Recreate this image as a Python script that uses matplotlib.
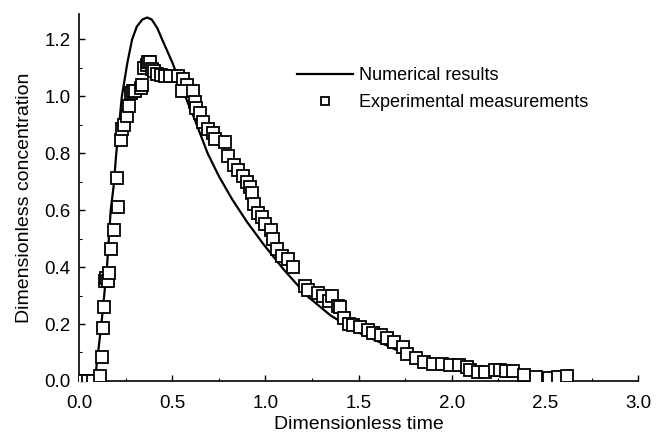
import matplotlib
matplotlib.use("Agg")
import matplotlib.pyplot as plt
from matplotlib.ticker import MultipleLocator, FormatStrFormatter

plt.rcParams['font.family'] = ['Liberation Sans', 'DejaVu Sans']

# Numerical results
num_t = [0.0, 0.075, 0.09, 0.12, 0.15, 0.17, 0.185, 0.20, 0.23, 0.26, 0.285, 0.31, 0.34,
         0.366, 0.39, 0.42, 0.446, 0.50, 0.57, 0.62, 0.69, 0.75, 0.82, 0.90, 0.99, 1.10,
         1.23, 1.35, 1.50, 1.70, 1.85, 2.00, 2.20, 2.50, 2.62]
num_c = [0.0, 0.0, 0.03, 0.20, 0.40, 0.60, 0.68, 0.80, 1.00, 1.12, 1.20, 1.245, 1.27,
         1.277, 1.27, 1.24, 1.20, 1.12, 1.00, 0.92, 0.80, 0.72, 0.64, 0.56, 0.48, 0.39,
         0.295, 0.23, 0.17, 0.11, 0.08, 0.05, 0.03, 0.01, 0.005]

# Experimental measurements
exp_t = [0.0, 0.025, 0.05, 0.075, 0.113, 0.124, 0.13, 0.135, 0.14, 0.145, 0.156, 0.16,
         0.17, 0.19, 0.21, 0.204, 0.226, 0.23, 0.24, 0.256, 0.27, 0.28, 0.29, 0.30,
         0.33, 0.34, 0.35, 0.365, 0.37, 0.38, 0.39, 0.40, 0.42, 0.44, 0.46, 0.49,
         0.53, 0.56, 0.58, 0.55, 0.61, 0.62, 0.63, 0.65, 0.665, 0.69, 0.72, 0.73,
         0.785, 0.80, 0.83, 0.855, 0.88, 0.90, 0.92, 0.93, 0.94, 0.96, 0.98, 1.0,
         1.03, 1.04, 1.06, 1.09, 1.12, 1.15, 1.215, 1.23, 1.28, 1.31, 1.34, 1.36,
         1.39, 1.40, 1.42, 1.45, 1.47, 1.51, 1.55, 1.58, 1.62, 1.65, 1.69, 1.74,
         1.76, 1.81, 1.85, 1.90, 1.95, 1.99, 2.04, 2.08, 2.10, 2.14, 2.18, 2.23,
         2.26, 2.29, 2.33, 2.39, 2.45, 2.52, 2.57, 2.62]
exp_c = [0.0, 0.0, 0.0, 0.0, 0.017, 0.084, 0.185, 0.26, 0.35, 0.36, 0.35, 0.38,
         0.465, 0.53, 0.61, 0.714, 0.847, 0.885, 0.90, 0.93, 0.966, 1.01, 1.02, 1.02,
         1.03, 1.04, 1.10, 1.11, 1.12, 1.12, 1.095, 1.09, 1.08, 1.075, 1.07, 1.07,
         1.07, 1.06, 1.04, 1.02, 1.02, 0.98, 0.96, 0.94, 0.91, 0.885, 0.87, 0.85,
         0.84, 0.79, 0.76, 0.74, 0.72, 0.70, 0.68, 0.66, 0.62, 0.59, 0.575, 0.55,
         0.53, 0.50, 0.465, 0.44, 0.43, 0.40, 0.335, 0.32, 0.31, 0.30, 0.28, 0.30,
         0.265, 0.26, 0.22, 0.20, 0.195, 0.19, 0.18, 0.17, 0.16, 0.15, 0.137, 0.12,
         0.095, 0.08, 0.066, 0.06, 0.06, 0.056, 0.056, 0.05, 0.04, 0.033, 0.033, 0.04,
         0.04, 0.035, 0.036, 0.02, 0.014, 0.01, 0.014, 0.017]

fig = plt.figure(figsize=(6.64, 4.45), dpi=100)
ax = fig.add_axes([0.119, 0.144, 0.842, 0.825])

ax.plot(num_t, num_c, color='black', lw=1.6, label='Numerical results', zorder=3)
ax.plot(exp_t, exp_c, ls='none', marker='s', markersize=8, markerfacecolor='white',
        markeredgecolor='black', markeredgewidth=1.3, label='Experimental measurements',
        zorder=4)

ax.set_xlim(0, 3.0)
ax.set_ylim(0, 1.29)
ax.xaxis.set_major_locator(MultipleLocator(0.5))
ax.xaxis.set_minor_locator(MultipleLocator(0.25))
ax.yaxis.set_major_locator(MultipleLocator(0.2))
ax.yaxis.set_minor_locator(MultipleLocator(0.1))
ax.xaxis.set_major_formatter(FormatStrFormatter('%.1f'))
ax.yaxis.set_major_formatter(FormatStrFormatter('%.1f'))

for s in ['top', 'right']:
    ax.spines[s].set_visible(False)
for s in ['left', 'bottom']:
    ax.spines[s].set_linewidth(1.2)

ax.tick_params(which='major', direction='in', length=4, width=1, labelsize=13.5)
ax.tick_params(axis='x', which='major', pad=10)
ax.tick_params(axis='y', which='major', pad=6)
ax.tick_params(which='minor', direction='in', length=2.5, width=0.8)

ax.set_xlabel('Dimensionless time', fontsize=14, labelpad=3)
ax.set_ylabel('Dimensionless concentration', fontsize=14, labelpad=8)

leg = ax.legend(loc='upper left', bbox_to_anchor=(0.39, 0.855), frameon=False,
                fontsize=13, handlelength=3.1, handletextpad=0.35, borderpad=0,
                borderaxespad=0, labelspacing=0.55, markerscale=0.8)

fig.savefig('out.png', dpi=100)
